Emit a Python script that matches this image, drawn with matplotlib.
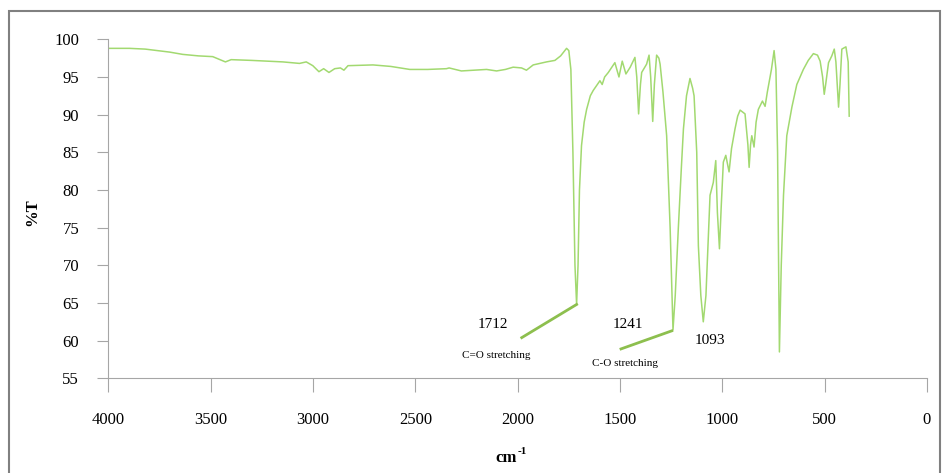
import matplotlib
matplotlib.use('Agg')
import matplotlib.pyplot as plt
from matplotlib.patches import Rectangle

# IR spectrum
wavenumber = [4000, 3897, 3820, 3759, 3700, 3637, 3560, 3490, 3428, 3400, 3300, 3147,
              3066, 3033, 3001, 2971, 2948, 2922, 2894, 2866, 2849, 2829, 2707, 2620,
              2527, 2440, 2348, 2335, 2275, 2152, 2103, 2060, 2022, 1981, 1957, 1924,
              1859, 1818, 1790, 1761, 1750, 1740, 1730, 1720, 1712, 1705, 1698, 1688,
              1675, 1663, 1645, 1631, 1598, 1587, 1575, 1557, 1525, 1505, 1489, 1471,
              1450, 1427, 1418, 1409, 1400, 1394, 1370, 1358, 1350, 1340, 1332, 1321,
              1310, 1304, 1290, 1272, 1255, 1241, 1230, 1215, 1200, 1190, 1175, 1158,
              1145, 1138, 1125, 1117, 1105, 1093, 1080, 1060, 1044, 1032, 1024, 1014,
              1005, 995, 983, 967, 955, 938, 925, 913, 889, 875, 869, 862, 856, 845,
              835, 824, 804, 791, 780, 760, 747, 738, 730, 721, 712, 701, 685, 660,
              636, 620, 604, 580, 555, 535, 522, 510, 502, 495, 481, 465, 453, 445,
              432, 425, 416, 396, 385, 380]
transmittance = [98.8, 98.8, 98.7, 98.5, 98.3, 98.0, 97.8, 97.7, 97.0, 97.3, 97.2, 97.0,
                 96.8, 97.0, 96.5, 95.7, 96.1, 95.6, 96.1, 96.2, 95.9, 96.5, 96.6, 96.4,
                 96.0, 96.0, 96.1, 96.2, 95.8, 96.0, 95.8, 96.0, 96.3, 96.2, 95.9, 96.6,
                 97.0, 97.2, 97.8, 98.8, 98.5, 96.0, 85.0, 70.0, 64.8, 70.0, 80.0, 85.9,
                 89.0, 90.7, 92.5, 93.2, 94.5, 94.0, 95.0, 95.6, 96.9, 95.0, 97.1, 95.4,
                 96.3, 97.6, 95.0, 90.1, 94.0, 95.6, 96.7, 97.9, 95.0, 89.1, 94.0, 97.9,
                 97.5, 96.7, 93.0, 87.2, 75.0, 61.4, 66.0, 74.9, 83.0, 88.1, 92.5, 94.8,
                 93.5, 92.5, 85.0, 72.6, 66.0, 62.5, 66.0, 79.3, 81.0, 83.9, 77.0, 72.2,
                 78.0, 83.7, 84.6, 82.4, 85.5, 88.1, 89.8, 90.6, 90.1, 86.0, 83.0, 86.0,
                 87.2, 85.7, 89.0, 90.7, 91.8, 91.1, 93.0, 96.0, 98.5, 96.0, 85.0, 58.5,
                 70.0, 79.3, 87.2, 91.0, 94.0, 95.0, 96.0, 97.2, 98.1, 97.9, 97.1, 95.0,
                 92.7, 94.0, 96.9, 97.8, 98.7, 97.0, 91.0, 94.0, 98.7, 99.0, 97.0, 89.8]

x_ticks = [4000, 3500, 3000, 2500, 2000, 1500, 1000, 500, 0]
y_ticks = [55, 60, 65, 70, 75, 80, 85, 90, 95, 100]

# peak labels: text, x, y
peak_labels = [('1712', 2123, 62.1), ('1241', 1460, 62.1), ('1093', 1060, 60.0)]
band_labels = [('C=O stretching', 2103, 58.0), ('C-O stretching', 1476, 57.0)]
# leader lines: (x0, y0, x1, y1)
leaders = [(1712, 64.8, 1980, 60.4), (1247, 61.3, 1495, 58.9)]

plt.rcParams['font.family'] = ['Liberation Serif', 'DejaVu Serif']

fig = plt.figure(figsize=(9.43, 4.73), dpi=100)
ax = fig.add_axes([0.1149, 0.2002, 0.983 - 0.1149, 0.9169 - 0.2002])

ax.plot(wavenumber, transmittance, '-', color='#a2d970', lw=1.1)
for x0, y0, x1, y1 in leaders:
    ax.plot([x0, x1], [y0, y1], '-', color='#8dbf4e', lw=2)
for t, x, y in peak_labels:
    ax.text(x, y, t, ha='center', va='center', fontsize=11)
for t, x, y in band_labels:
    ax.text(x, y, t, ha='center', va='center', fontsize=8)

ax.set_xlim(4000, 0)
ax.set_ylim(55, 100)
ax.set_xticks(x_ticks)
ax.set_yticks(y_ticks)
for s in ['top', 'right']:
    ax.spines[s].set_visible(False)
for s in ['left', 'bottom']:
    ax.spines[s].set_color('#a6a6a6')
ax.tick_params(axis='both', colors='#a6a6a6', labelcolor='black', labelsize=12, length=8)
ax.tick_params(axis='y', pad=13)
ax.tick_params(axis='x', pad=14, length=10)

fig.text(32 / 943, 1 - 212 / 473, '%T', rotation=90, ha='center', va='center',
         fontsize=12, fontweight='bold')
fig.text(517 / 943, 1 - 458 / 473, 'cm', ha='right', va='center',
         fontsize=12, fontweight='bold')
fig.text(518 / 943, 1 - 451 / 473, '-1', ha='left', va='center',
         fontsize=8, fontweight='bold')

fig.patches.append(Rectangle((9 / 943, -0.05), (940 - 9) / 943, 1.05 - 11 / 473,
                             transform=fig.transFigure, fill=False,
                             edgecolor='#808080', lw=1.5))

fig.savefig('out.png', dpi=100)
